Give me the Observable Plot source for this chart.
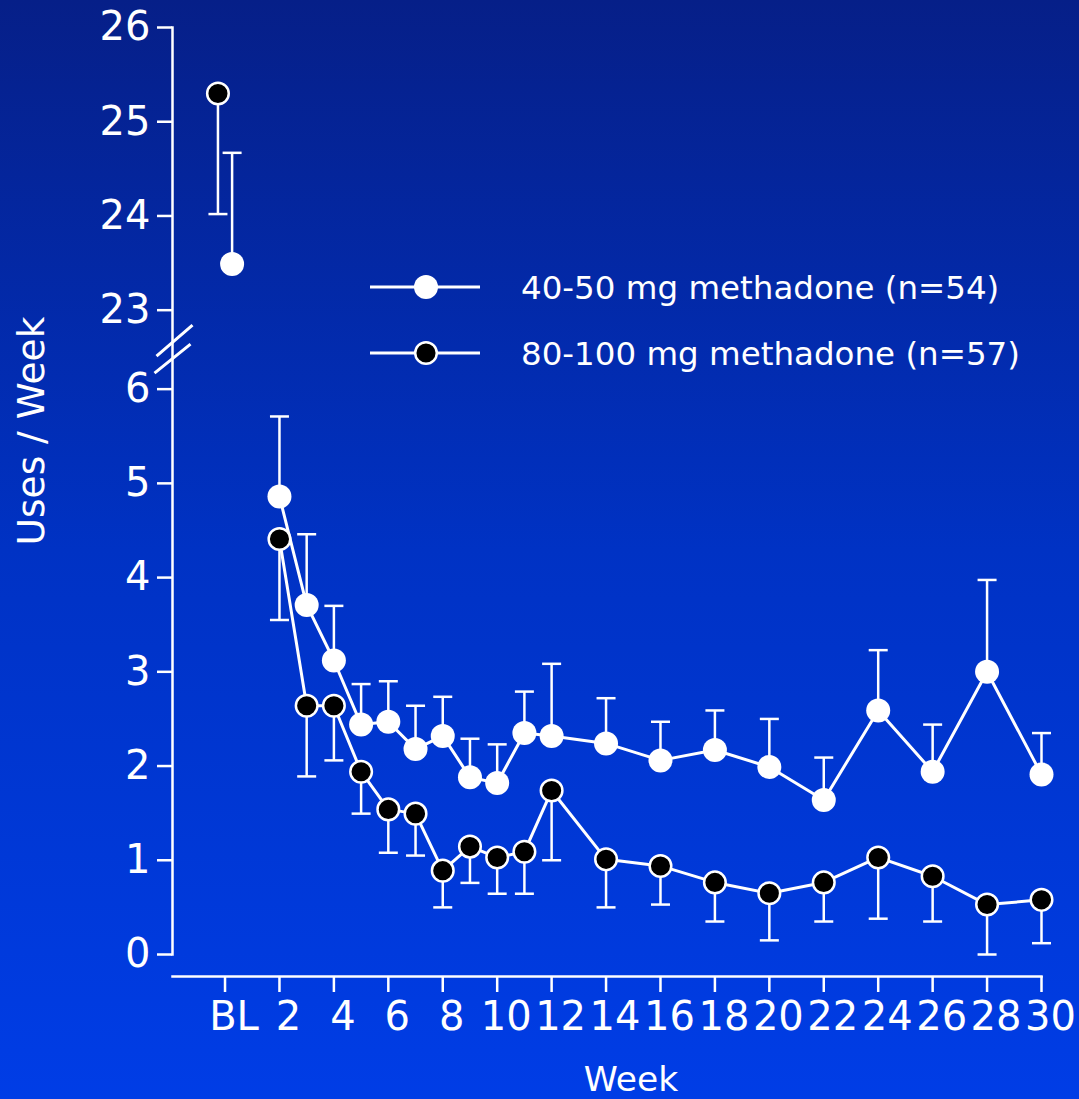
<!DOCTYPE html>
<html><head><meta charset="utf-8">
<script src="https://cdn.jsdelivr.net/npm/d3@7"></script>
<script src="https://cdn.jsdelivr.net/npm/@observablehq/plot@0.6"></script>
<style>
html,body{margin:0;padding:0;}
body{width:1079px;height:1099px;overflow:hidden;background:linear-gradient(to bottom,#061f88 0%,#0032c4 50%,#003de6 100%);font-family:"DejaVu Sans",sans-serif;}
#chart{position:relative;width:1079px;height:1099px;}
#legend{position:absolute;left:0;top:0;overflow:visible;}
</style></head><body><div id="chart"></div>
<script>
// ---- data ----
const seriesNames = ["40-50 mg methadone (n=54)", "80-100 mg methadone (n=57)"];
const weeks = [2,3,4,5,6,7,8,9,10,11,12,14,16,18,20,22,24,26,28,30];
// 40-50 mg: means and upper error bounds
const lowMean = [4.86,3.71,3.12,2.44,2.47,2.18,2.32,1.88,1.82,2.35,2.32,2.24,2.06,2.17,1.99,1.64,2.59,1.94,3.00,1.91];
const lowUpper = [5.71,4.46,3.70,2.87,2.90,2.64,2.735,2.29,2.23,2.79,3.085,2.72,2.47,2.59,2.50,2.09,3.23,2.44,3.975,2.35];
// 80-100 mg: means and lower error bounds
const highMean = [4.41,2.64,2.64,1.94,1.54,1.495,0.89,1.145,1.03,1.09,1.74,1.01,0.94,0.765,0.65,0.765,1.03,0.83,0.53,0.58];
const highLower = [3.55,1.89,2.06,1.495,1.08,1.05,0.50,0.76,0.645,0.645,1.00,0.50,0.53,0.35,0.15,0.35,0.38,0.35,0.00,0.12];
// baseline (BL)
const lowBL = 23.49, lowBLUpper = 24.67;
const highBL = 25.30, highBLLower = 24.02;
// axes
const xTicks = [0,2,4,6,8,10,12,14,16,18,20,22,24,26,28,30];
const xTickLabels = ["BL","2","4","6","8","10","12","14","16","18","20","22","24","26","28","30"];
const yTicks = [0,1,2,3,4,5,6,23,24,25,26];

// ---- broken axis transform ----
const lowTop = 6, breakFrom = 23, gap = 0.838;
const tY = v => v >= breakFrom ? v - breakFrom + lowTop + gap : v;
const yMax = tY(26);
const xMin = -1.93, xMax = 30;
const dodge = 0.26;

const lowRows = weeks.map((w,i)=>({week:w, y:tY(lowMean[i]), e:tY(lowUpper[i])}));
const highRows = weeks.map((w,i)=>({week:w, y:tY(highMean[i]), e:tY(highLower[i])}));
const lowBLRow = {week: 0 + dodge, y: tY(lowBL), e: tY(lowBLUpper)};
const highBLRow = {week: 0 - dodge, y: tY(highBL), e: tY(highBLLower)};
const lowAll = [lowBLRow, ...lowRows];
const highAll = [highBLRow, ...highRows];

const cap = {draw(ctx){ ctx.moveTo(-9.5,0); ctx.lineTo(9.5,0); }};
const breakSym = {draw(ctx){ ctx.moveTo(-17,6.5); ctx.lineTo(19,-24.5); ctx.moveTo(-19,23.5); ctx.lineTo(17,-5.5); }};

const W = "white";
const plot = Plot.plot({
  width: 1079, height: 1099,
  marginLeft: 172, marginRight: 38, marginTop: 27, marginBottom: 123,
  style: {background: "transparent", color: "white", fontFamily: "DejaVu Sans, sans-serif", overflow: "visible"},
  x: {domain: [xMin, xMax]},
  y: {domain: [0, yMax], insetBottom: 22},
  marks: [
    Plot.frame({anchor: "left", insetBottom: 22, stroke: W, strokeWidth: 2.5}),
    Plot.frame({anchor: "bottom", stroke: W, strokeWidth: 2.5}),
    Plot.axisY({ticks: yTicks.map(tY), tickFormat: d => String(yTicks[yTicks.map(tY).indexOf(d)]), tickSize: 15, tickPadding: 7, fontSize: 40, strokeWidth: 2.5, label: null}),
    Plot.axisX({ticks: xTicks, tickFormat: () => "", tickSize: 16, strokeWidth: 2.5, label: null}),
    Plot.axisX({ticks: xTicks, tickFormat: d => xTickLabels[xTicks.indexOf(d)], tickSize: 0, tickPadding: 25, dx: 9, fontSize: 40, label: null}),
    Plot.dot([{x: xMin, y: lowTop + gap / 2}], {x: "x", y: "y", symbol: breakSym, stroke: W, strokeWidth: 3, fill: "none", dx: 1}),
    Plot.text(["Uses / Week"], {text: d => d, frameAnchor: "left", textAnchor: "middle", rotate: -90, dx: -141, dy: -71, fontSize: 37.5, fill: W}),
    Plot.text(["Week"], {text: d => d, frameAnchor: "bottom", dx: 24, dy: 114, fontSize: 34.5, fill: W}),
    // 40-50 mg series
    Plot.ruleX(lowAll, {x: "week", y1: "y", y2: "e", stroke: W, strokeWidth: 2.5}),
    Plot.dot(lowAll, {x: "week", y: "e", symbol: cap, stroke: W, strokeWidth: 2.5, fill: "none"}),
    Plot.line(lowRows, {x: "week", y: "y", stroke: W, strokeWidth: 3}),
    Plot.dot(lowAll, {x: "week", y: "y", r: 12, fill: W, stroke: "none"}),
    // 80-100 mg series
    Plot.ruleX(highAll, {x: "week", y1: "y", y2: "e", stroke: W, strokeWidth: 2.5}),
    Plot.dot(highAll, {x: "week", y: "e", symbol: cap, stroke: W, strokeWidth: 2.5, fill: "none"}),
    Plot.line(highRows, {x: "week", y: "y", stroke: W, strokeWidth: 3}),
    Plot.dot(highAll, {x: "week", y: "y", r: 10.8, fill: "black", stroke: W, strokeWidth: 2.5})
  ]
});
document.getElementById("chart").appendChild(plot);

// ---- legend (overlay) ----
const legendStyles = [{fill: "white", stroke: "none", r: 12}, {fill: "black", stroke: "white", r: 10.8}];
const lg = d3.select("#chart").append("svg").attr("id","legend").attr("width",1079).attr("height",1099);
seriesNames.forEach((name, i) => {
  const yy = 287 + i * 66;
  const g = lg.append("g").attr("transform", `translate(0,${yy})`);
  g.append("line").attr("x1",370).attr("x2",480).attr("y1",0).attr("y2",0).attr("stroke","white").attr("stroke-width",3);
  g.append("circle").attr("cx",426).attr("cy",0).attr("r",legendStyles[i].r).attr("fill",legendStyles[i].fill)
    .attr("stroke",legendStyles[i].stroke).attr("stroke-width",2.5);
  g.append("text").attr("x",521).attr("y",12).attr("fill","white").attr("font-size",32.5)
    .attr("font-family","DejaVu Sans, sans-serif").text(name);
});
</script></body></html>
